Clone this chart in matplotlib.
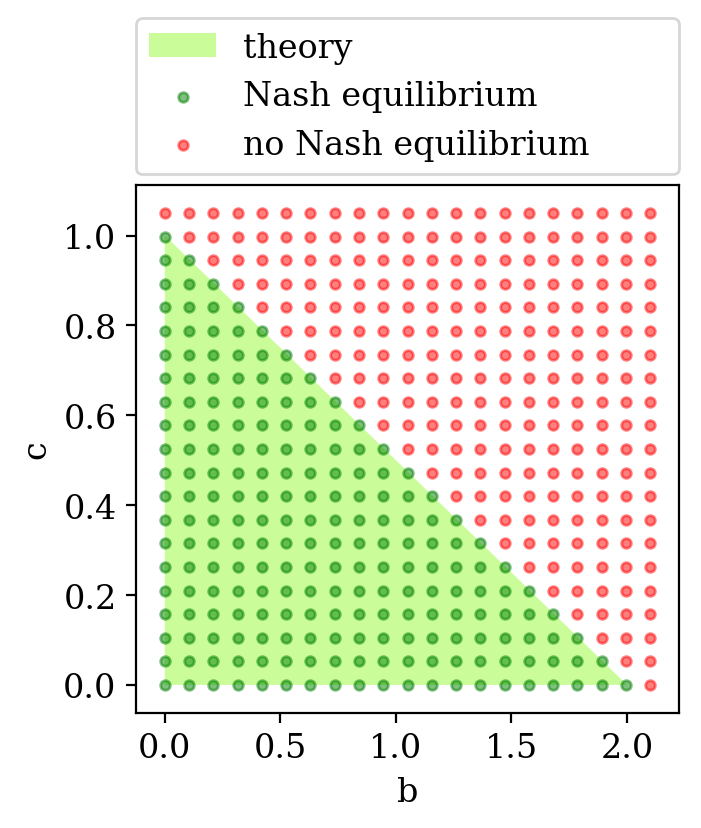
import numpy as np
import matplotlib
matplotlib.use("Agg")
import matplotlib.pyplot as plt

plt.rcParams['font.family'] = ['DejaVu Serif']
plt.rcParams['font.size'] = 12

b_values = np.linspace(0.0, 2.1, 21)
c_values = np.linspace(0.0, 1.05, 21)
theory_b = [0.0, 0.0, 2.0]
theory_c = [0.0, 1.0, 0.0]

B, C = np.meshgrid(b_values, c_values)
B = B.ravel()
C = C.ravel()
nash = (B / 2.0 + C) <= 1.0 + 1e-9

fig = plt.figure(figsize=(7.01 / 2, 8.29 / 2), dpi=200)
ax = fig.add_axes([136 / 701, 1 - 714 / 829, (679 - 136) / 701, (714 - 186) / 829])

ax.fill(theory_b, theory_c, color='lawngreen', alpha=0.4, linewidth=0, label='theory')
ax.scatter(B[nash], C[nash], s=12, color='green', alpha=0.5, label='Nash equilibrium')
ax.scatter(B[~nash], C[~nash], s=12, color='red', alpha=0.5, label='no Nash equilibrium')

ax.set_xlabel('b')
ax.set_ylabel('c')
ax.set_xticks([0.0, 0.5, 1.0, 1.5, 2.0])
ax.set_yticks([0.0, 0.2, 0.4, 0.6, 0.8, 1.0])
ax.set_xlim(-0.125, 2.225)
ax.set_ylim(-0.0625, 1.1125)

ax.legend(bbox_to_anchor=(0, 1.02, 1, 0.2), loc='lower left', mode='expand',
          borderaxespad=0, fontsize=12)

fig.savefig('out.png', dpi=200)
